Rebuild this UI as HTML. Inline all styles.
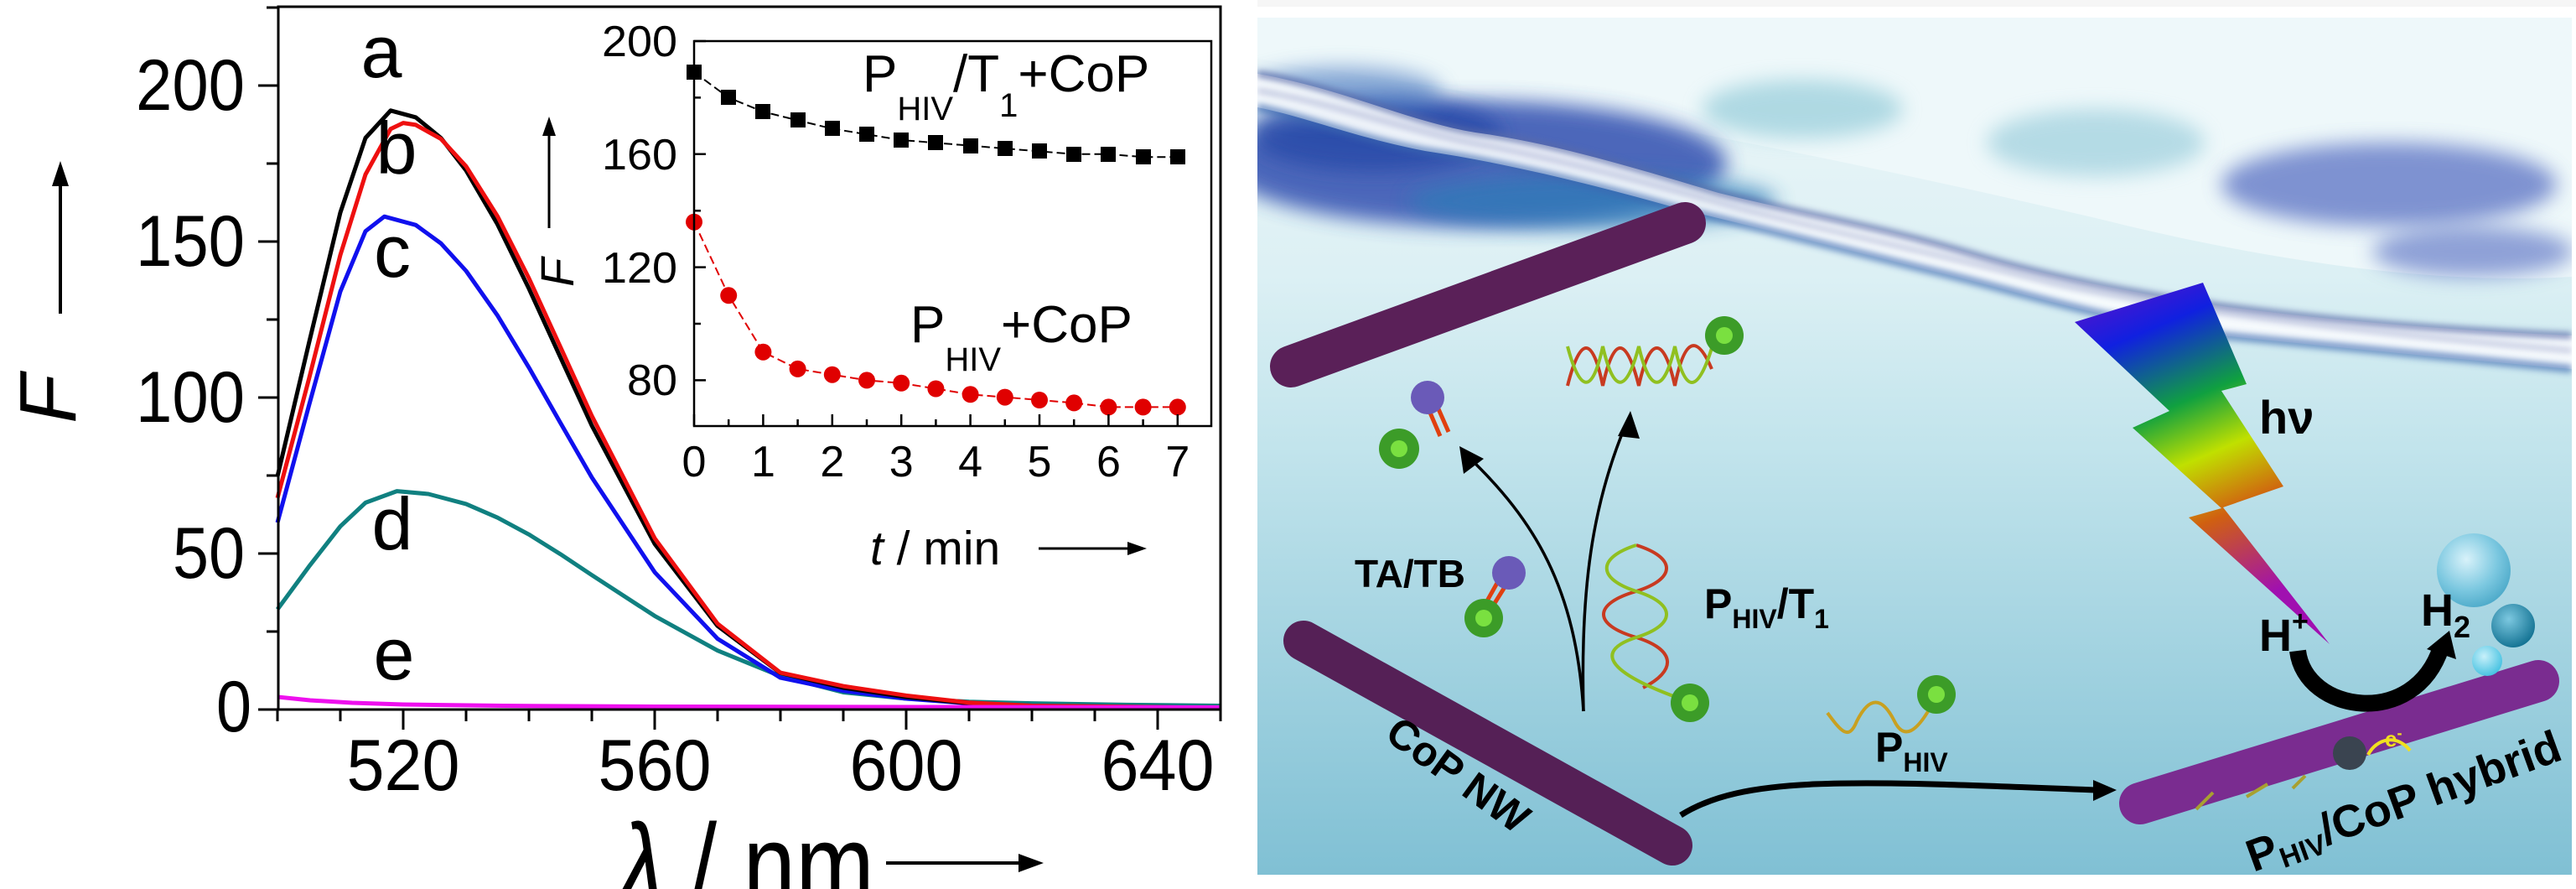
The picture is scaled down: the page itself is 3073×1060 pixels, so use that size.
<!DOCTYPE html>
<html><head><meta charset="utf-8"><style>
html,body{margin:0;padding:0;background:#fff;}
svg{display:block;}
text{font-family:"Liberation Sans",sans-serif;}
</style></head><body>
<svg width="3073" height="1060" viewBox="0 0 3073 1060" xmlns="http://www.w3.org/2000/svg">
<defs>
<linearGradient id="water" x1="0" y1="0" x2="0" y2="1">
<stop offset="0" stop-color="#eef7f9"/><stop offset="0.3" stop-color="#dcf0f4"/><stop offset="0.5" stop-color="#c2e4ec"/><stop offset="1" stop-color="#80c0d4"/>
</linearGradient>
<linearGradient id="bolt" x1="0" y1="0" x2="0.3" y2="1">
<stop offset="0" stop-color="#6a10c8"/><stop offset="0.2" stop-color="#1020e0"/><stop offset="0.42" stop-color="#10a040"/><stop offset="0.58" stop-color="#c0e000"/><stop offset="0.75" stop-color="#d06010"/><stop offset="1" stop-color="#a010b0"/>
</linearGradient>
<filter id="bl" x="-50%" y="-50%" width="200%" height="200%"><feGaussianBlur stdDeviation="12"/></filter>
<filter id="bl2" x="-50%" y="-50%" width="200%" height="200%"><feGaussianBlur stdDeviation="4"/></filter>
<radialGradient id="bub" cx="0.4" cy="0.35" r="0.7"><stop offset="0" stop-color="#d8f2fa"/><stop offset="0.6" stop-color="#7cc8e0"/><stop offset="1" stop-color="#4aa8c8"/></radialGradient>
<radialGradient id="bub2" cx="0.4" cy="0.35" r="0.7"><stop offset="0" stop-color="#7cc8e0"/><stop offset="1" stop-color="#0f6f90"/></radialGradient>
<radialGradient id="bub3" cx="0.4" cy="0.35" r="0.7"><stop offset="0" stop-color="#c8f0fa"/><stop offset="1" stop-color="#40c0e0"/></radialGradient>
<clipPath id="cp"><rect x="1500" y="21" width="1568" height="1022"/></clipPath>
</defs>

<!-- ========== LEFT PLOT ========== -->
<g fill="none" stroke-linejoin="round" stroke-width="5">
<polyline stroke="#108080" points="331,726.6 368.5,675.6 406,627.6 436,599.4 473.5,585.6 511,589 556,600.9 593.5,617.2 631,637.3 668.5,660.7 706,685.7 781,734.4 856,775.7 931,806.2 1006,825.5 1081,833 1156,836.7 1231,838.6 1343.5,840.4 1456,841.5"/>
<polyline stroke="#1010ee" points="331,623.2 368.5,483.7 406,347.5 436,275.7 458.5,258.2 496,268.3 526,290.2 556,323 593.5,376.2 631,438.3 668.5,504.1 706,569.2 781,682.3 856,761.6 931,808.1 1006,823.7 1081,833 1156,838.6 1231,841.5 1456,844"/>
<polyline stroke="#000000" points="331,568.1 368.5,409.3 406,253.4 436,164.5 466,131.8 496,139.9 526,164.5 556,203.2 593.5,267.5 631,344.2 668.5,426 706,507.5 781,648.5 856,746.3 931,802.5 1006,820 1081,831.1 1156,838.6 1231,842.3 1456,844"/>
<polyline stroke="#ee1010" points="331,593.8 368.5,452 406,304 436,208 466,153.7 481,146.6 496,148.9 526,165.6 556,198.3 593.5,257.9 631,331.9 668.5,413.7 706,495.9 781,641.8 856,743.7 931,802.1 1006,818.1 1081,829.3 1156,837.8 1231,841.5 1456,844"/>
<polyline stroke="#ee10ee" points="331,831 370,835 420,838 481,840 600,841.5 781,842.5 1100,843 1456,843.5"/>
</g>
<path stroke="#000" stroke-width="3" d="M331 846V860M406 846V860M481 846V870M556 846V860M631 846V860M706 846V860M781 846V870M856 846V860M931 846V860M1006 846V860M1081 846V870M1156 846V860M1231 846V860M1306 846V860M1381 846V870M1456 846V860M332 846H308M332 753H318M332 660H308M332 567H318M332 474H308M332 381H318M332 288H308M332 195H318M332 102H308M332 9H318"/>
<rect x="332" y="8" width="1124" height="838" fill="none" stroke="#000" stroke-width="3"/>
<g font-size="86" fill="#000">
<text x="292" y="131" text-anchor="end" textLength="130" lengthAdjust="spacingAndGlyphs">200</text>
<text x="292" y="317" text-anchor="end" textLength="130" lengthAdjust="spacingAndGlyphs">150</text>
<text x="292" y="503" text-anchor="end" textLength="130" lengthAdjust="spacingAndGlyphs">100</text>
<text x="292" y="689" text-anchor="end" textLength="86" lengthAdjust="spacingAndGlyphs">50</text>
<text x="300" y="872" text-anchor="end" textLength="42" lengthAdjust="spacingAndGlyphs">0</text>
<text x="481" y="942" text-anchor="middle" textLength="135" lengthAdjust="spacingAndGlyphs">520</text>
<text x="781" y="942" text-anchor="middle" textLength="135" lengthAdjust="spacingAndGlyphs">560</text>
<text x="1081" y="942" text-anchor="middle" textLength="135" lengthAdjust="spacingAndGlyphs">600</text>
<text x="1381" y="942" text-anchor="middle" textLength="135" lengthAdjust="spacingAndGlyphs">640</text>
<text x="455" y="92" text-anchor="middle" font-size="88">a</text>
<text x="473" y="207" text-anchor="middle" font-size="88">b</text>
<text x="468" y="330" text-anchor="middle" font-size="88">c</text>
<text x="468" y="655" text-anchor="middle" font-size="88">d</text>
<text x="470" y="810" text-anchor="middle" font-size="88">e</text>
<text x="737" y="1080" font-size="140" textLength="306" lengthAdjust="spacingAndGlyphs"><tspan font-style="italic">λ</tspan> / nm</text>
<text transform="translate(90,505) rotate(-90)" font-size="96" font-style="italic">F</text>
</g>
<g stroke="#000" stroke-width="4" fill="#000">
<line x1="1057" y1="1029" x2="1225" y2="1029"/><path d="M1245 1029 L1215 1018 L1215 1040Z" stroke="none"/>
<line x1="72" y1="374" x2="72" y2="210"/><path d="M72 192 L62 222 L82 222Z" stroke="none"/>
</g>

<!-- inset -->
<g fill="none" stroke-width="2" stroke-dasharray="10 5">
<polyline stroke="#000" points="828,86.1 869.2,116.4 910.4,133.3 951.6,143.4 992.8,153.5 1034,160.2 1075.2,167 1116.4,170.3 1157.6,173.7 1198.8,177.1 1240,180.4 1281.2,183.8 1322.4,183.8 1363.6,187.2 1404.8,187.2"/>
<polyline stroke="#e00000" points="828,264.7 869.2,352.3 910.4,419.7 951.6,439.9 992.8,446.7 1034,453.4 1075.2,456.8 1116.4,463.5 1157.6,470.3 1198.8,473.6 1240,477 1281.2,480.4 1322.4,485.4 1363.6,485.4 1404.8,485.4"/>
</g>
<g fill="#000">
<rect x="819" y="77" width="18" height="18"/><rect x="860" y="107" width="18" height="18"/><rect x="901" y="124" width="18" height="18"/><rect x="943" y="134" width="18" height="18"/><rect x="984" y="144" width="18" height="18"/><rect x="1025" y="151" width="18" height="18"/><rect x="1066" y="158" width="18" height="18"/><rect x="1107" y="161" width="18" height="18"/><rect x="1149" y="165" width="18" height="18"/><rect x="1190" y="168" width="18" height="18"/><rect x="1231" y="171" width="18" height="18"/><rect x="1272" y="175" width="18" height="18"/><rect x="1313" y="175" width="18" height="18"/><rect x="1355" y="178" width="18" height="18"/><rect x="1396" y="178" width="18" height="18"/>
</g>
<g fill="#e00000">
<circle cx="828" cy="264.7" r="10"/><circle cx="869.2" cy="352.3" r="10"/><circle cx="910.4" cy="419.7" r="10"/><circle cx="951.6" cy="439.9" r="10"/><circle cx="992.8" cy="446.7" r="10"/><circle cx="1034" cy="453.4" r="10"/><circle cx="1075.2" cy="456.8" r="10"/><circle cx="1116.4" cy="463.5" r="10"/><circle cx="1157.6" cy="470.3" r="10"/><circle cx="1198.8" cy="473.6" r="10"/><circle cx="1240" cy="477" r="10"/><circle cx="1281.2" cy="480.4" r="10"/><circle cx="1322.4" cy="485.4" r="10"/><circle cx="1363.6" cy="485.4" r="10"/><circle cx="1404.8" cy="485.4" r="10"/>
</g>
<path stroke="#000" stroke-width="2.5" d="M828 508V494M869.2 508V500M910.4 508V494M951.6 508V500M992.8 508V494M1034 508V500M1075.2 508V494M1116.4 508V500M1157.6 508V494M1198.8 508V500M1240 508V494M1281.2 508V500M1322.4 508V494M1363.6 508V500M1404.8 508V494M828 453.4H842M828 386H836M828 318.6H842M828 251.2H836M828 183.8H842M828 116.4H836M828 49H842"/>
<rect x="828" y="49" width="617" height="459" fill="none" stroke="#000" stroke-width="2.5"/>
<g font-size="52" fill="#000">
<text x="808" y="67" text-anchor="end" textLength="90" lengthAdjust="spacingAndGlyphs">200</text>
<text x="808" y="202" text-anchor="end" textLength="90" lengthAdjust="spacingAndGlyphs">160</text>
<text x="808" y="337" text-anchor="end" textLength="90" lengthAdjust="spacingAndGlyphs">120</text>
<text x="808" y="471" text-anchor="end" textLength="60" lengthAdjust="spacingAndGlyphs">80</text>
</g>
<g font-size="52" fill="#000" text-anchor="middle">
<text x="828" y="568">0</text><text x="910.4" y="568">1</text><text x="992.8" y="568">2</text><text x="1075.2" y="568">3</text><text x="1157.6" y="568">4</text><text x="1240" y="568">5</text><text x="1322.4" y="568">6</text><text x="1404.8" y="568">7</text>
</g>
<g fill="#000">
<text x="1029" y="109" font-size="62">P<tspan font-size="40" dy="34">HIV</tspan><tspan dy="-34">/T</tspan><tspan font-size="40" dy="30">1</tspan><tspan dy="-30">+CoP</tspan></text>
<text x="1086" y="408" font-size="62">P<tspan font-size="40" dy="34">HIV</tspan><tspan dy="-34">+CoP</tspan></text>
<text x="1038" y="673" font-size="57"><tspan font-style="italic">t</tspan> / min</text>
<text transform="translate(684,342) rotate(-90)" font-size="56" font-style="italic">F</text>
<line x1="1239" y1="654" x2="1350" y2="654" stroke="#000" stroke-width="3"/><path d="M1368 654 L1345 646 L1345 662Z"/>
<line x1="655" y1="272" x2="655" y2="155" stroke="#000" stroke-width="3"/><path d="M655 139 L647 162 L663 162Z"/>
</g>

<!-- ========== RIGHT PANEL ========== -->
<rect x="1500" y="0" width="1573" height="8" fill="#f6f6f6"/>
<rect x="1500" y="21" width="1568" height="1022" fill="url(#water)"/>
<g clip-path="url(#cp)">
<path d="M1500 21 H3068 V330 C2900 340 2700 310 2500 260 C2200 190 1900 130 1500 70Z" fill="#eef8fa"/>
<ellipse cx="1760" cy="195" rx="300" ry="75" fill="#3050b0" opacity="0.85" filter="url(#bl)"/>
<ellipse cx="1640" cy="160" rx="150" ry="45" fill="#2848a8" opacity="0.8" filter="url(#bl)"/>
<ellipse cx="1900" cy="240" rx="220" ry="32" fill="#2f7cb8" opacity="0.75" filter="url(#bl)"/>
<ellipse cx="1600" cy="110" rx="120" ry="30" fill="#4a78c0" opacity="0.6" filter="url(#bl)"/>
<ellipse cx="2150" cy="130" rx="120" ry="35" fill="#7cc0d0" opacity="0.55" filter="url(#bl)"/>
<ellipse cx="2850" cy="220" rx="200" ry="50" fill="#5068c0" opacity="0.7" filter="url(#bl)"/>
<ellipse cx="2950" cy="300" rx="120" ry="30" fill="#5068c0" opacity="0.6" filter="url(#bl)"/>
<ellipse cx="2500" cy="170" rx="130" ry="40" fill="#8fc8d8" opacity="0.6" filter="url(#bl)"/>
<path d="M1500 88 C1600 105 1680 145 1760 158 C1850 170 1950 200 2050 230 C2150 255 2250 272 2350 302 C2450 332 2550 350 2650 365 C2800 385 2950 395 3068 400 L3068 440 C2950 430 2800 415 2650 400 C2500 380 2400 345 2300 322 C2200 297 2100 272 2000 248 C1900 220 1800 195 1700 180 C1620 165 1560 140 1500 128Z" fill="#f8fbfd" opacity="0.95"/>
<path d="M1500 88 C1600 105 1680 145 1760 158 C1850 170 1950 200 2050 230 C2150 255 2250 272 2350 302 C2450 332 2550 350 2650 365 C2800 385 2950 395 3068 400" fill="none" stroke="#5a6aa8" stroke-width="7" opacity="0.85" filter="url(#bl2)"/>
<path d="M1500 108 C1600 125 1690 160 1780 175 C1880 195 1980 222 2080 250 C2200 280 2320 305 2450 338 C2600 370 2800 395 3068 418" fill="none" stroke="#8890c0" stroke-width="4" opacity="0.7" filter="url(#bl2)"/>
<path d="M1500 128 C1560 140 1620 165 1700 180 C1800 195 1900 220 2000 248 C2100 272 2200 297 2300 322 C2400 345 2500 380 2650 400 C2800 415 2950 430 3068 440" fill="none" stroke="#3a68b0" stroke-width="9" opacity="0.7" filter="url(#bl2)"/>
</g>

<!-- rods -->
<g stroke-linecap="round">
<line x1="1540" y1="437" x2="2010" y2="266" stroke="#5a2058" stroke-width="50"/>
<line x1="1555" y1="764" x2="1995" y2="1008" stroke="#552056" stroke-width="48"/>
<line x1="2553" y1="958" x2="3028" y2="812" stroke="#7a2c90" stroke-width="50"/>
</g>

<path d="M2475 384 L2628 337 L2680 458 L2650 466 L2724 580 L2652 605 L2779 768 L2611 617 L2650 606 L2544 510 L2588 490Z" fill="url(#bolt)"/>

<g fill="none" stroke="#000">
<path d="M1889 848 C1880 700 1830 620 1752 545" stroke-width="3.5"/>
<path d="M1889 848 C1885 700 1900 600 1940 505" stroke-width="3.5"/>
<path d="M2005 972 C2080 925 2200 930 2500 942" stroke-width="7"/>
<path d="M2741 776 C2750 850 2880 870 2912 772" stroke-width="20"/>
</g>
<g fill="#000">
<path d="M1741 532 L1746 565 L1770 547Z"/>
<path d="M1945 490 L1930 520 L1956 523Z"/>
<path d="M2525 942 L2497 930 L2497 955Z"/>
<path d="M2922 752 L2895 774 L2930 786Z"/>
</g>

<circle cx="2951" cy="680" r="44" fill="url(#bub)"/>
<circle cx="2998" cy="746" r="26" fill="url(#bub2)"/>
<circle cx="2967" cy="788" r="18" fill="url(#bub3)"/>

<g fill="none" stroke-width="4">
<path d="M1870 460 C1885 400 1900 400 1912 460 C1925 400 1940 400 1955 460 C1968 400 1985 400 1998 460 C2010 400 2025 400 2042 440" stroke="#c83a20"/>
<path d="M1870 413 C1885 470 1900 470 1912 413 C1925 470 1940 470 1955 413 C1968 470 1985 470 1998 413 C2010 470 2025 470 2042 415" stroke="#90c020"/>
<path d="M1952 650 C2000 665 2000 690 1952 705 C1900 720 1900 745 1952 760 C2000 775 2000 800 1960 820" stroke="#c83a20"/>
<path d="M1952 650 C1905 665 1905 690 1952 705 C2000 720 2000 745 1952 760 C1905 775 1910 800 2010 835" stroke="#90c020"/>
<path d="M2180 850 C2195 870 2205 885 2215 860 C2230 830 2245 830 2260 860 C2270 880 2285 880 2310 830" stroke="#c8a020"/>
<path d="M2620 965 L2640 945 M2680 950 L2705 935 M2735 940 L2750 925" stroke="#a8a030"/>
<path d="M1718 520 L1700 478 M1728 515 L1710 474" stroke="#e04010" stroke-width="5"/>
<path d="M1772 720 L1790 688 M1780 724 L1800 692" stroke="#e04010" stroke-width="5"/>
<path d="M2825 900 C2835 880 2860 875 2875 895" stroke="#f0e020" stroke-width="4"/>
</g>
<g fill="#3c9c28">
<circle cx="1669" cy="535" r="24"/><circle cx="2057" cy="400" r="23"/><circle cx="1770" cy="737" r="23"/><circle cx="2016" cy="838" r="23"/><circle cx="2310" cy="828" r="23"/>
</g>
<g fill="#7ae040">
<circle cx="1669" cy="535" r="10"/><circle cx="2057" cy="400" r="10"/><circle cx="1770" cy="737" r="10"/><circle cx="2016" cy="838" r="10"/><circle cx="2310" cy="828" r="10"/>
</g>
<g fill="#6a5ab8"><circle cx="1703" cy="474" r="20"/><circle cx="1800" cy="683" r="20"/></g>
<circle cx="2803" cy="898" r="20" fill="#3a4450"/>

<g font-weight="bold" fill="#000">
<text x="2695" y="517" font-size="56">hν</text>
<text x="2695" y="776" font-size="54">H<tspan font-size="34" dy="-24">+</tspan></text>
<text x="2888" y="746" font-size="54">H<tspan font-size="36" dy="14">2</tspan></text>
<text x="1616" y="700" font-size="46">TA/TB</text>
<text x="2033" y="737" font-size="50">P<tspan font-size="32" dy="12">HIV</tspan><tspan dy="-12">/T</tspan><tspan font-size="32" dy="12">1</tspan></text>
<text x="2237" y="908" font-size="50">P<tspan font-size="32" dy="12">HIV</tspan></text>
<text transform="translate(1650,880) rotate(36)" font-size="50">CoP NW</text>
<text transform="translate(2688,1040) rotate(-20)" font-size="54">P<tspan font-size="34" dy="8">HIV</tspan><tspan dy="-8">/CoP hybrid</tspan></text>
<text x="2845" y="890" font-size="26" fill="#f0e020">e<tspan dy="-10" font-size="18">-</tspan></text>
</g>
</svg>
</body></html>
